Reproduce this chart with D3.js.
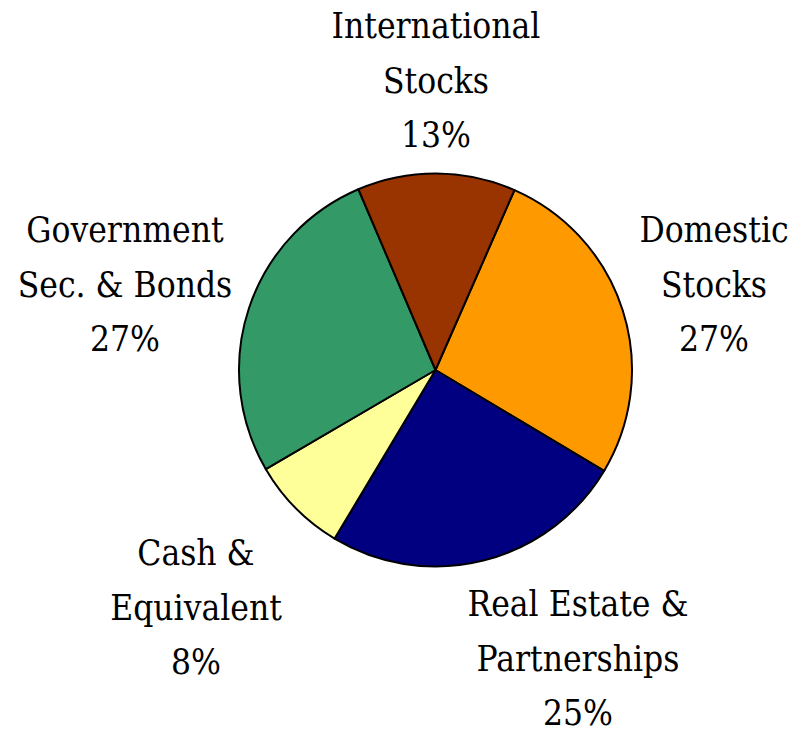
<!DOCTYPE html>
<html>
<head>
<meta charset="utf-8">
<script src="https://cdn.jsdelivr.net/npm/d3@7"></script>
<style>
  body { margin: 0; background: #fff; }
  svg { display: block; }
</style>
</head>
<body>
<svg id="chart"></svg>
<script>
// slices, clockwise starting from the Domestic / International boundary
var categories = ["Domestic Stocks", "Real Estate & Partnerships", "Cash & Equivalent", "Government Sec. & Bonds", "International Stocks"];
var values = [27, 25, 8, 27, 13];
var colors = ["#FF9900", "#000080", "#FFFF99", "#339966", "#993300"];
// label lines (last line is the percent)
var labelLines = [
  ["Domestic", "Stocks", "27%"],
  ["Real Estate &", "Partnerships", "25%"],
  ["Cash &", "Equivalent", "8%"],
  ["Government", "Sec. & Bonds", "27%"],
  ["International", "Stocks", "13%"]
];

var svgWidth = 801, svgHeight = 734;
var cx = 435.5, cy = 370, radius = 196.5;
var startDeg = 23.7;

var svg = d3.select("#chart")
    .attr("width", svgWidth)
    .attr("height", svgHeight);

var pie = d3.pie()
    .sort(null)
    .value(function(d) { return d; })
    .startAngle(startDeg * Math.PI / 180)
    .endAngle((startDeg + 360) * Math.PI / 180);

var arc = d3.arc().innerRadius(0).outerRadius(radius);

var g = svg.append("g")
    .attr("transform", "translate(" + cx + "," + cy + ")");

var arcs = pie(values);

g.selectAll("path")
    .data(arcs)
  .enter().append("path")
    .attr("d", arc)
    .attr("fill", function(d, i) { return colors[i]; })
    .attr("stroke", "#000")
    .attr("stroke-width", 2)
    .attr("stroke-linejoin", "round");

// label anchor positions (first-line baseline), placed around the pie
var labelPos = [
  [714, 242],
  [578, 616],
  [196, 565],
  [125, 242],
  [436, 38]
];
var lineGap = 54.5;

arcs.forEach(function(d, i) {
  var t = svg.append("text")
      .attr("x", labelPos[i][0])
      .attr("y", labelPos[i][1])
      .attr("text-anchor", "middle")
      .style("font-family", "'DejaVu Serif Condensed', 'DejaVu Serif', serif")
      .style("font-stretch", "condensed")
      .style("font-size", "35px")
      .attr("fill", "#000");
  labelLines[i].forEach(function(line, j) {
    t.append("tspan")
      .attr("x", labelPos[i][0])
      .attr("y", labelPos[i][1] + j * lineGap)
      .text(line);
  });
});
</script>
</body>
</html>
